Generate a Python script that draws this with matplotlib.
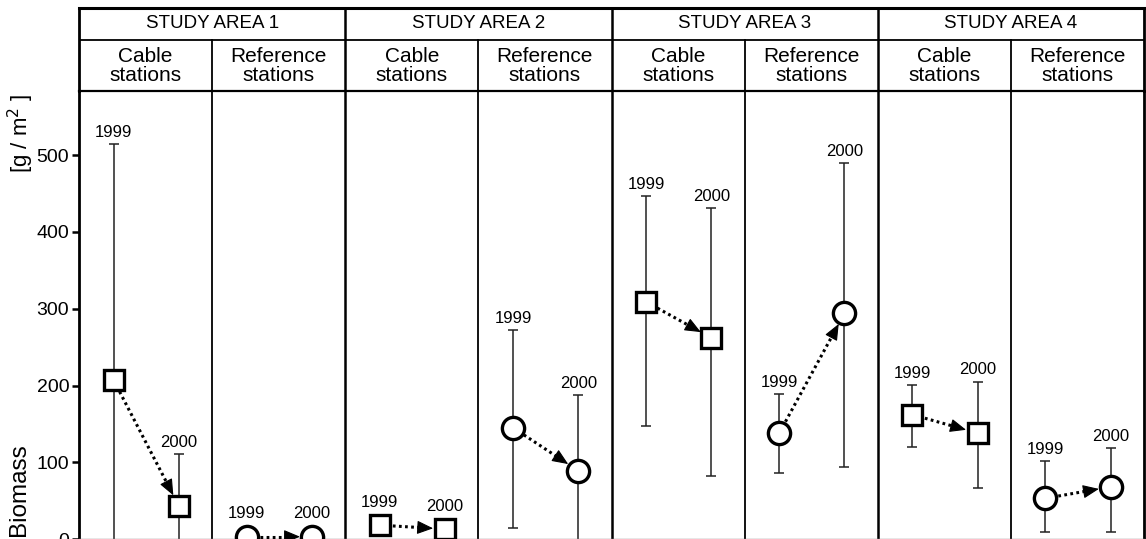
import numpy as np
import matplotlib
matplotlib.use('agg')
import matplotlib.pyplot as plt

plt.rcParams['font.family'] = ['Liberation Sans', 'DejaVu Sans']

##### data
areas = ['STUDY AREA 1', 'STUDY AREA 2', 'STUDY AREA 3', 'STUDY AREA 4']
groups = ['Cable\nstations', 'Reference\nstations']
years = ['1999', '2000']
# one entry per sub-column: A1 cable, A1 ref, A2 cable, A2 ref, ...
mean_1999 = [207, 3, 18, 145, 309, 138, 162, 53]
mean_2000 = [43, 3, 13, 89, 262, 294, 138, 68]
hi_1999 = [515, np.nan, np.nan, 272, 447, 189, 201, 102]
lo_1999 = [-60, np.nan, np.nan, 14, 147, 86, 120, 9]
hi_2000 = [111, np.nan, np.nan, 188, 431, 490, 205, 119]
lo_2000 = [-60, np.nan, np.nan, -60, 82, 94, 66, 9]
yticks = [0, 100, 200, 300, 400, 500]

W, H = 1146, 539
fig = plt.figure(figsize=(W/100, H/100), dpi=100)
x0, x1 = 79/W, 1144/W
ax = fig.add_axes([x0, 0.0, x1-x0, 448/H])
hdr = fig.add_axes([x0, 448/H, x1-x0, 83/H])

nsub = len(areas)*2
for a in (ax, hdr):
    a.set_xlim(0, nsub)
    a.set_xticks([])
    for s in a.spines.values():
        s.set_color('black')
hdr.set_ylim(0, 1)
hdr.set_yticks([])
hdr.spines['top'].set_linewidth(2.2)
hdr.spines['left'].set_linewidth(2.0)
hdr.spines['right'].set_linewidth(2.0)
hdr.spines['bottom'].set_linewidth(1.6)
ax.spines['top'].set_visible(False)
ax.spines['left'].set_linewidth(2.0)
ax.spines['right'].set_linewidth(2.0)
ax.spines['bottom'].set_color('#888888')
ax.spines['bottom'].set_linewidth(1.0)

ax.set_ylim(0, 448/0.7675)
ax.set_yticks(yticks)
ax.set_yticklabels([str(v) for v in yticks], fontsize=14)
ax.tick_params(axis='y', direction='out', length=5, width=1.8, pad=2)

#header table
hdr.axhline(0.614, color='black', lw=1.3)
for i, name in enumerate(areas):
    hdr.text(2*i+1, 0.81, name, ha='center', va='center', fontsize=13.5)
    if i > 0:
        hdr.axvline(2*i, color='black', lw=1.8)
        ax.axvline(2*i, color='black', lw=1.8)
    hdr.plot([2*i+1, 2*i+1], [0, 0.614], color='black', lw=1.3)
    ax.axvline(2*i+1, color='black', lw=1.3)
    for j, g in enumerate(groups):
        hdr.text(2*i+j+0.5, 0.30, g, ha='center', va='center', fontsize=15, linespacing=1.0)

#points, error bars, arrows
px1, px2 = 0.26, 0.75
inv = ax.transData.inverted()
for k in range(nsub):
    mk = 's' if k % 2 == 0 else 'o'
    xa, xb = k+px1, k+px2
    for xx, m, lo, hi, yr in ((xa, mean_1999[k], lo_1999[k], hi_1999[k], years[0]),
                              (xb, mean_2000[k], lo_2000[k], hi_2000[k], years[1])):
        if not np.isnan(hi):
            ax.errorbar([xx], [m], yerr=[[m-lo], [hi-m]], fmt='none', ecolor='#222222',
                        elinewidth=1.1, capsize=3.6, capthick=1.1, zorder=2)
            ax.annotate(yr, (xx, hi), xytext=(0, 3), textcoords='offset points',
                        ha='center', va='bottom', fontsize=12)
        else:
            ax.annotate(yr, (xx, m), xytext=(0, 11), textcoords='offset points',
                        ha='center', va='bottom', fontsize=12)
        ax.plot([xx], [m], marker=mk, ms=15 if mk == 's' else 16, mfc='white', mec='black',
                mew=2.4, zorder=4, clip_on=False)
    # dotted shaft + solid head, built in pixel space
    p1 = ax.transData.transform((xa, mean_1999[k]))
    p2 = ax.transData.transform((xb, mean_2000[k]))
    u = (p2 - p1) / np.hypot(*(p2 - p1))
    start = p1 + u*13
    tip = p2 - u*12
    base = tip - u*10
    s_d, b_d, t_d = inv.transform(start), inv.transform(base), inv.transform(tip)
    ax.plot([s_d[0], b_d[0]], [s_d[1], b_d[1]], color='black', lw=2.2,
            ls=(0, (0.9, 1.1)), solid_capstyle='butt', zorder=3)
    ax.annotate('', xy=tuple(t_d), xytext=tuple(b_d),
                arrowprops=dict(arrowstyle='-|>,head_length=1.0,head_width=0.42',
                                color='black', lw=0.8, shrinkA=0, shrinkB=0), zorder=3)

fig.text(19/W, 1-490/H, 'Biomass', rotation=90, ha='center', va='center', fontsize=17.5)
fig.text(21/W, 1-133/H, r'[g / m$^2$ ]', rotation=90, ha='center', va='center', fontsize=16)

fig.savefig('out.png', dpi=100)
